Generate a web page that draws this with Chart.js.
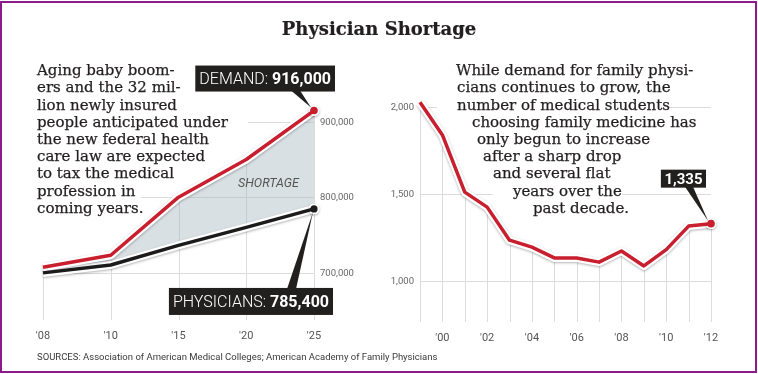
<!DOCTYPE html>
<html><head><meta charset="utf-8">
<script src="https://cdn.jsdelivr.net/npm/chart.js@4.4.1/dist/chart.umd.min.js"></script>
<style>
html,body{margin:0;padding:0;background:#fff;}
body{width:758px;height:374px;position:relative;overflow:hidden;}
#frame{position:absolute;left:0;top:1px;width:757px;height:372px;box-sizing:border-box;border:2px solid #8c1c8c;pointer-events:none;}
canvas{position:absolute;top:0;}
#cL{left:0;}
#cR{left:370px;}
#title{position:absolute;left:0;width:758px;top:17.5px;line-height:21px;text-align:center;font:bold 18px "DejaVu Serif";color:#231f20;-webkit-text-stroke:0.2px #231f20;}
.txt{position:absolute;top:62.2px;font:15px "DejaVu Serif";line-height:17.2px;color:#231f20;-webkit-text-stroke:0.25px #231f20;}
.txt span{display:block;width:max-content;background:#fff;white-space:nowrap;}
#ltxt{left:37px;}
#ltxt span{padding-right:6px;}
#ltxt span.w{padding-right:20px;}
#rtxt{left:436px;}
#rtxt span{padding-left:20px;}
#short{position:absolute;left:238px;top:175px;line-height:14px;font:italic 12.5px Roboto;color:#555;}
#src{position:absolute;left:37px;top:351px;line-height:11px;font:9.5px Roboto;color:#3a3a3a;white-space:nowrap;}
</style></head>
<body>
<canvas id="cL" width="370" height="374"></canvas>
<canvas id="cR" width="388" height="374"></canvas>
<div id="title">Physician Shortage</div>
<div class="txt" id="ltxt">
<span>Aging baby boom-</span>
<span>ers and the 32 mil-</span>
<span>lion newly insured</span>
<span class="w">people anticipated under</span>
<span>the new federal health</span>
<span>care law are expected</span>
<span>to tax the medical</span>
<span>profession in</span>
<span>coming years.</span>
</div>
<div class="txt" id="rtxt">
<span style="margin-left:0px">While demand for family physi-</span>
<span style="margin-left:1px">cians continues to grow, the</span>
<span style="margin-left:1px">number of medical students</span>
<span style="margin-left:16px">choosing family medicine has</span>
<span style="margin-left:21px">only begun to increase</span>
<span style="margin-left:27px">after a sharp drop</span>
<span style="margin-left:37px">and several flat</span>
<span style="margin-left:57px">years over the</span>
<span style="margin-left:77px">past decade.</span>
</div>
<div id="short">SHORTAGE</div>
<div id="src">SOURCES: Association of American Medical Colleges; American Academy of Family Physicians</div>
<div id="frame"></div>
<script>
// ---- data ----
const leftYears = ["'08", "'10", "'15", "'20", "'25"];
const demand = [708000, 724000, 801000, 851000, 916000];
const physicians = [700500, 711000, 737000, 761000, 785400];
const leftYTicks = [700000, 800000, 900000];

const rightYears = ['1999','2000','2001','2002','2003','2004','2005','2006','2007','2008','2009','2010','2011','2012'];
const rightTickLabels = ['', "'00", '', "'02", '', "'04", '', "'06", '', "'08", '', "'10", '', "'12"];
const students = [2032, 1845, 1516, 1430, 1240, 1200, 1138, 1138, 1114, 1178, 1092, 1186, 1321, 1335];
const rightYTicks = [1000, 1500, 2000];

// ---- styles ----
const RED = '#c81e2d', BLK = '#1b1b1b', BOX = '#221f1f';
const FILL = 'rgba(165,182,190,0.42)', GRID = '#dcdcdc';
const lastOnly = r => c => (c.dataIndex === c.dataset.data.length - 1 ? r : 0);

const vGrid = {
  id: 'vGrid',
  beforeDraw(chart) {
    const { ctx, chartArea: a, scales: { x, y } } = chart;
    const ds = chart.data.datasets.filter(d => !d.halo);
    ctx.save();
    ctx.strokeStyle = GRID; ctx.lineWidth = 1;
    chart.data.labels.forEach((l, i) => {
      const px = Math.round(x.getPixelForValue(i)) + 0.5;
      const top = Math.min(...ds.map(d => y.getPixelForValue(d.data[i])));
      ctx.beginPath(); ctx.moveTo(px, a.bottom); ctx.lineTo(px, top); ctx.stroke();
    });
    ctx.restore();
  }
};

const haloShadow = {
  id: 'haloShadow',
  beforeDatasetDraw(chart, args) {
    if (chart.data.datasets[args.index].halo) {
      const ctx = chart.ctx;
      ctx.save();
      ctx.shadowColor = 'rgba(0,0,0,0.30)';
      ctx.shadowBlur = 2.5;
      ctx.shadowOffsetY = 1;
    }
  },
  afterDatasetDraw(chart, args) {
    if (chart.data.datasets[args.index].halo) chart.ctx.restore();
  }
};

function makeCallouts(items) {
  return {
    id: 'callouts',
    afterDatasetsDraw(chart) {
      const ctx = chart.ctx;
      items.forEach(it => {
        const meta = chart.getDatasetMeta(it.ds);
        const pt = meta.data[meta.data.length - 1];
        const px = pt.x, py = pt.y;
        const data = chart.data.datasets[it.ds].data;
        const valTxt = data[data.length - 1].toLocaleString('en-US');
        ctx.save();
        ctx.font = `300 ${it.size}px Roboto`;
        const w1 = it.label ? ctx.measureText(it.label).width : 0;
        ctx.font = `bold ${it.size}px Roboto`;
        const w2 = ctx.measureText(valTxt).width;
        const w = w1 + w2 + 2 * it.pad;
        const right = px + it.dx, left = right - w, top = py + it.dy, h = it.h;
        ctx.fillStyle = BOX;
        ctx.fillRect(left, top, w, h);
        const by = it.up ? top + 1 : top + h - 1;
        ctx.beginPath();
        ctx.moveTo(px + it.b0, by); ctx.lineTo(px + it.b1, by);
        ctx.lineTo(px + it.tx, py + it.ty); ctx.closePath(); ctx.fill();
        ctx.fillStyle = '#fff';
        ctx.textBaseline = 'alphabetic';
        const base = top + h / 2 + it.size * 0.711 / 2;
        if (it.label) { ctx.font = `300 ${it.size}px Roboto`; ctx.fillText(it.label, left + it.pad, base); }
        ctx.font = `bold ${it.size}px Roboto`;
        ctx.fillText(valTxt, left + it.pad + w1, base);
        ctx.restore();
      });
    }
  };
}

const tickFont = { family: 'Roboto', size: 11 };
const yFont = { family: 'Roboto', size: 9.5 };

// ---- left chart ----
new Chart(document.getElementById('cL'), {
  type: 'line',
  data: {
    labels: leftYears,
    datasets: [
      { data: demand, borderColor: RED, borderWidth: 3.5, order: 0, pointRadius: lastOnly(3.8), pointHoverRadius: 0,
        pointBackgroundColor: RED, pointBorderWidth: 0, fill: false, clip: false, tension: 0, borderJoinStyle: 'round' },
      { data: physicians, borderColor: BLK, borderWidth: 3.4, order: 1, pointRadius: lastOnly(3.6), pointHoverRadius: 0,
        pointBackgroundColor: BLK, pointBorderWidth: 0, fill: false, clip: false, tension: 0, borderJoinStyle: 'round' },
      { data: demand, halo: true, borderColor: '#fff', borderWidth: 8, order: 2, pointRadius: lastOnly(5.5), pointHoverRadius: 0,
        pointBackgroundColor: '#fff', pointBorderWidth: 0, fill: 3, backgroundColor: FILL, clip: false, tension: 0, borderJoinStyle: 'round' },
      { data: physicians, halo: true, borderColor: '#fff', borderWidth: 8, order: 3, pointRadius: lastOnly(5.5), pointHoverRadius: 0,
        pointBackgroundColor: '#fff', pointBorderWidth: 0, fill: false, clip: false, tension: 0, borderJoinStyle: 'round' }
    ]
  },
  options: {
    responsive: false, animation: false, events: [],
    layout: { padding: { left: 43, top: 100, right: 0, bottom: 0 } },
    plugins: { legend: { display: false }, tooltip: { enabled: false }, filler: { drawTime: 'beforeDatasetsDraw' } },
    scales: {
      x: { type: 'category', offset: false, grid: { display: false, drawTicks: false }, border: { display: false },
        ticks: { color: '#555', font: tickFont, padding: 10, maxRotation: 0, autoSkip: false },
        afterFit(s) { s.height = 54; } },
      y: { position: 'right', min: 638000, max: 930000,
        grid: { color: GRID, drawTicks: false, lineWidth: 1 }, border: { display: false },
        ticks: { color: '#666', font: yFont, padding: 6, callback: v => v.toLocaleString('en-US') },
        afterBuildTicks(s) { s.ticks = leftYTicks.map(v => ({ value: v })); },
        afterFit(s) { s.width = 56; } }
    }
  },
  plugins: [vGrid, haloShadow, makeCallouts([
    { ds: 0, label: 'DEMAND: ', size: 16, pad: 4, h: 26, dx: 21, dy: -45, up: false, b0: -23, b1: -14, tx: -3, ty: -3 },
    { ds: 1, label: 'PHYSICIANS: ', size: 16, pad: 4, h: 27, dx: 19, dy: 79, up: true, b0: -27, b1: -18, tx: -1, ty: 3 }
  ])]
});

// ---- right chart ----
new Chart(document.getElementById('cR'), {
  type: 'line',
  data: {
    labels: rightYears,
    datasets: [
      { data: students, borderColor: RED, borderWidth: 3.5, order: 0, pointRadius: lastOnly(3.8), pointHoverRadius: 0,
        pointBackgroundColor: RED, pointBorderWidth: 0, fill: false, clip: false, tension: 0, borderJoinStyle: 'round' },
      { data: students, halo: true, borderColor: '#fff', borderWidth: 8, order: 1, pointRadius: lastOnly(5.5), pointHoverRadius: 0,
        pointBackgroundColor: '#fff', pointBorderWidth: 0, fill: false, clip: false, tension: 0, borderJoinStyle: 'round' }
    ]
  },
  options: {
    responsive: false, animation: false, events: [],
    layout: { padding: { left: 0, top: 94, right: 47, bottom: 0 } },
    plugins: { legend: { display: false }, tooltip: { enabled: false } },
    scales: {
      x: { type: 'category', offset: false, grid: { display: false, drawTicks: false }, border: { display: false },
        ticks: { color: '#555', font: tickFont, padding: 10, maxRotation: 0, autoSkip: false,
          callback: (v, i) => rightTickLabels[i] },
        afterFit(s) { s.height = 52; } },
      y: { position: 'left', min: 770, max: 2080,
        grid: { color: GRID, drawTicks: false, lineWidth: 1 }, border: { display: false },
        ticks: { color: '#666', font: yFont, padding: 6, callback: v => v.toLocaleString('en-US') },
        afterBuildTicks(s) { s.ticks = rightYTicks.map(v => ({ value: v })); },
        afterFit(s) { s.width = 50; } }
    }
  },
  plugins: [vGrid, haloShadow, makeCallouts([
    { ds: 0, label: '', size: 15, pad: 3.5, h: 18, dx: -5, dy: -54, up: false, b0: -26, b1: -18, tx: -3, ty: -3 }
  ])]
});
</script>
</body></html>
